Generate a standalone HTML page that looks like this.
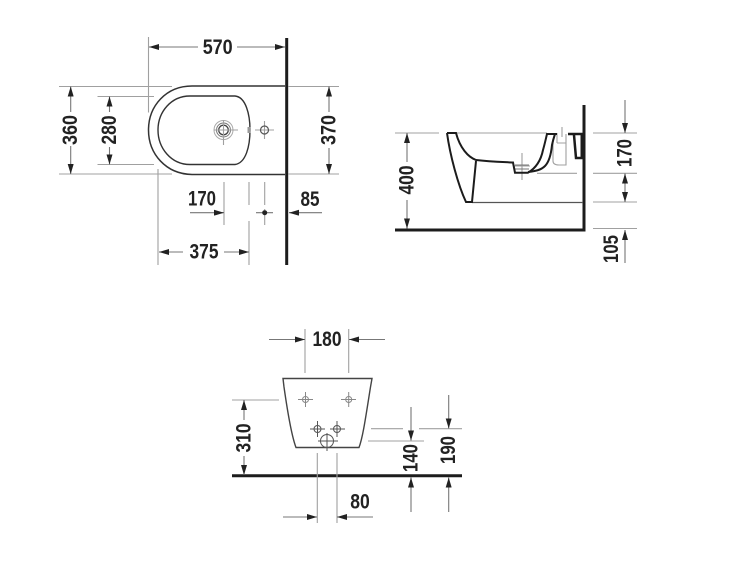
<!DOCTYPE html>
<html>
<head>
<meta charset="utf-8">
<style>
html,body{margin:0;padding:0;background:#fff;width:750px;height:563px;overflow:hidden}
svg{display:block;filter:blur(.35px)}
text{font-family:"Liberation Sans",sans-serif;font-weight:bold;font-size:21px;fill:#222;text-anchor:middle;dominant-baseline:central}
.g{stroke:#a0a0a0;stroke-width:1.100;fill:none}
.d{stroke:#777;stroke-width:1.100;fill:none}
.k{stroke:#1c1c1c;fill:none}
</style>
</head>
<body>
<svg width="750" height="563" viewBox="0 0 750 563" xmlns="http://www.w3.org/2000/svg">
<defs>
<marker id="a" viewBox="0 0 10 6" refX="10" refY="3" markerWidth="10" markerHeight="6" orient="auto" markerUnits="userSpaceOnUse"><path d="M0 0L10 3L0 6Z" fill="#222"/></marker>
</defs>

<!-- TOP VIEW -->
<path class="k" stroke-width="3" d="M286.700 38V265"/>
<path class="g" d="M148.500 37V112.500M59 86.500H172M59 174H172M97.500 96.500H154M97.500 164.500H154M158 169V265M249 182V205M249 221V265M224 182V225M264.700 182V205M264.700 209V225M288 86.500H339M288 174H339"/>
<path class="d" marker-end="url(#a)" d="M198 47H149"/>
<path class="d" marker-end="url(#a)" d="M237 47H285"/>
<path class="d" marker-end="url(#a)" d="M70.700 112V86.500"/>
<path class="d" marker-end="url(#a)" d="M70.700 146V174"/>
<path class="d" marker-end="url(#a)" d="M109.500 112V96.500"/>
<path class="d" marker-end="url(#a)" d="M109.500 147V164.500"/>
<path class="d" marker-end="url(#a)" d="M190 212.700H224"/>
<path class="d" marker-end="url(#a)" d="M322 212.700H289"/>
<path class="d" marker-end="url(#a)" d="M183 252H159"/>
<path class="d" marker-end="url(#a)" d="M224 252H249"/>
<path class="d" marker-end="url(#a)" d="M329 112V86.500"/>
<path class="d" marker-end="url(#a)" d="M329 148V174"/>
<path class="d" d="M256 212.700H273"/>
<circle cx="264.700" cy="212.700" r="2.500" fill="#222"/>
<path stroke="#333" stroke-width="1.500" fill="none" d="M285 86H192C166 86 148.500 106 148.500 130C148.500 154 166 174 192 174.500H285"/>
<path stroke="#333" stroke-width="1.400" fill="none" d="M190 96H235C246 97 250 115 250 130C250 146 246 163 235 164.500H190C171 164.500 158 148 158 130C158 112 171 96 190 96Z"/>
<circle cx="223.500" cy="130" r="4.800" fill="none" stroke="#444" stroke-width="1.300"/>
<circle cx="223.500" cy="130" r="7" fill="none" stroke="#777"/>
<circle cx="223.500" cy="130" r="9.500" fill="none" stroke="#aaa"/>
<path class="g" d="M214 130H238M223.500 120V145M255 130H274M264.500 121V139"/>
<circle cx="264.500" cy="130" r="4" fill="none" stroke="#555" stroke-width="1.200"/>
<rect x="247.500" y="127" width="3" height="6" fill="#999"/>
<text x="217.700" y="47.500" textLength="30" lengthAdjust="spacingAndGlyphs">570</text>
<text transform="translate(70.500 130) rotate(-90)" textLength="30" lengthAdjust="spacingAndGlyphs">360</text>
<text transform="translate(109.500 130) rotate(-90)" textLength="29" lengthAdjust="spacingAndGlyphs">280</text>
<text x="202" y="199" textLength="28" lengthAdjust="spacingAndGlyphs">170</text>
<text x="204" y="252" textLength="29" lengthAdjust="spacingAndGlyphs">375</text>
<text x="310" y="199.500" textLength="19" lengthAdjust="spacingAndGlyphs">85</text>
<text transform="translate(329 130) rotate(-90)" textLength="30" lengthAdjust="spacingAndGlyphs">370</text>

<!-- SIDE VIEW -->
<path class="k" stroke-width="3" d="M395 230H584V105"/>
<path class="g" d="M395 133H439M447 133H547M593 133H637M593 173.300H637M593 202H637M593 228.500H637M537 173.300H577"/>
<path stroke="#555" stroke-width="1.300" fill="none" d="M472 202.500H583"/>
<path class="d" marker-end="url(#a)" d="M407 162V133"/>
<path class="d" marker-end="url(#a)" d="M407 200V228.500"/>
<path class="d" marker-end="url(#a)" d="M625 100V133"/>
<path class="d" marker-end="url(#a)" d="M625 187V173.500"/>
<path class="d" marker-end="url(#a)" d="M625 187V202"/>
<path class="d" marker-end="url(#a)" d="M625 263V230"/>
<path class="g" d="M553 143V161C553 164 556 165 559 165H566V134M557 143H566M557 133V143M562 127V137M522 153V180M514 166H530"/>
<path class="d" d="M515 165H529M515 169H529"/>
<path stroke="#1c1c1c" stroke-width="2" fill="none" d="M447 133H456C460 148 468 157 476 160C492 162 505 162 513 162.500L515 172.700H528C536 168 541 160 543 150C545 143 546 138 547 134H557"/>
<path stroke="#1c1c1c" stroke-width="2" fill="none" d="M447 133C450 155 458 185 466 202H472L476 161"/>
<path stroke="#1c1c1c" stroke-width="2" fill="none" d="M528 172C536 171 541 170 545 166C549 162 551 155 552 145C553 140 554 137 555 134"/>
<path stroke="#1c1c1c" stroke-width="2.500" fill="none" d="M568 134H584M574 135L576 158H582V134"/>
<rect x="580.500" y="134" width="2.500" height="24" fill="#1c1c1c"/>
<text transform="translate(407 180) rotate(-90)" textLength="29" lengthAdjust="spacingAndGlyphs">400</text>
<text transform="translate(625 153) rotate(-90)" textLength="28" lengthAdjust="spacingAndGlyphs">170</text>
<text transform="translate(611.500 249) rotate(-90)" textLength="28" lengthAdjust="spacingAndGlyphs">105</text>

<!-- FRONT VIEW -->
<path class="k" stroke-width="3" d="M232 475.700H462"/>
<path stroke="#444" stroke-width="1.400" fill="none" d="M283 378.500H372L370.500 387C366 415 363 437 359 447.500H296C292 437 288 415 284 387Z"/>
<path class="g" d="M305 329V373M348.700 329V373M232 400H279M371 428.700H403M368 441H424M419 428.700H462M317.300 453V523M337 453V523"/>
<path class="d" marker-end="url(#a)" d="M269 339.500H305"/>
<path class="d" marker-end="url(#a)" d="M385 339.500H349"/>
<path class="d" marker-end="url(#a)" d="M244 420V400"/>
<path class="d" marker-end="url(#a)" d="M244 456V475"/>
<path class="d" marker-end="url(#a)" d="M411 407V440.500"/>
<path class="d" marker-end="url(#a)" d="M411 512V477.500"/>
<path class="d" marker-end="url(#a)" d="M448.700 395V428.500"/>
<path class="d" marker-end="url(#a)" d="M448.700 512V477.500"/>
<path class="d" marker-end="url(#a)" d="M283 517H317"/>
<path class="d" marker-end="url(#a)" d="M373 517H337"/>
<g fill="none" stroke="#888">
<circle cx="305.500" cy="399.500" r="3"/><path d="M298 399.500H313M305.500 392V407"/>
<circle cx="348.700" cy="399.500" r="3"/><path d="M341 399.500H356M348.700 392V407"/>
</g>
<g fill="none" stroke="#555">
<circle cx="317.500" cy="429" r="3.500"/><path d="M310 429H325M317.500 421V437"/>
<circle cx="337" cy="429" r="3.500"/><path d="M330 429H345M337 421V437"/>
<circle cx="327" cy="441" r="6.500"/><path d="M318 441H338M327 433V451"/>
</g>
<text x="327" y="339.500" textLength="29" lengthAdjust="spacingAndGlyphs">180</text>
<text transform="translate(244 438) rotate(-90)" textLength="29" lengthAdjust="spacingAndGlyphs">310</text>
<text transform="translate(411 458) rotate(-90)" textLength="28" lengthAdjust="spacingAndGlyphs">140</text>
<text transform="translate(448.500 450) rotate(-90)" textLength="28" lengthAdjust="spacingAndGlyphs">190</text>
<text x="360" y="502" textLength="19.500" lengthAdjust="spacingAndGlyphs">80</text>
</svg>
</body>
</html>
